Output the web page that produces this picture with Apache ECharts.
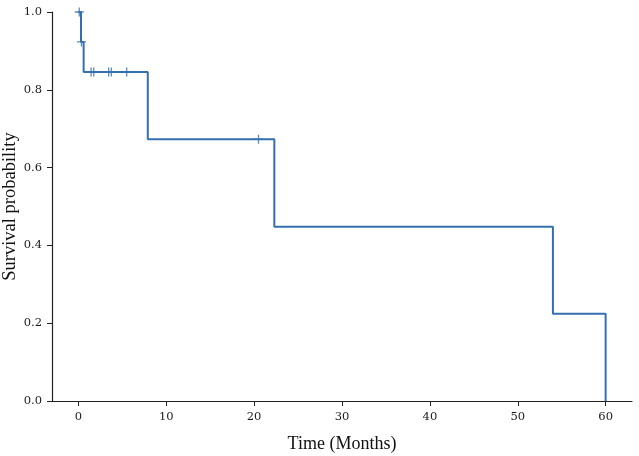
<!DOCTYPE html>
<html><head><meta charset="utf-8">
<script src="https://cdn.jsdelivr.net/npm/echarts@6/dist/echarts.min.js"></script>
<style>html,body{margin:0;padding:0;background:#fff}#c{width:639px;height:456px}</style>
</head><body><div id="c"></div>
<script>
var stepTimes = [0, 0.3, 0.6, 7.9, 22.3, 54.0, 60.0];
var stepSurv = [1.0, 0.923, 0.846, 0.673, 0.448, 0.224, 0.0];
var censorTimes = [0.1, 0.35, 1.45, 1.75, 3.45, 3.75, 5.5, 20.5];
var censorSurv = [1.0, 0.923, 0.846, 0.846, 0.846, 0.846, 0.846, 0.673];
var xTicks = [0, 10, 20, 30, 40, 50, 60];
var yTicks = [0, 0.2, 0.4, 0.6, 0.8, 1.0];

var color = '#3470ae';
var titleFont = 'Liberation Serif';
var tickFont = 'DejaVu Serif';
var chart = echarts.init(document.getElementById('c'));
chart.setOption({
  animation: false,
  grid: {left: 52, right: 7, top: 12, bottom: 55, outerBoundsMode: 'none', containLabel: false},
  xAxis: {
    type: 'value', min: -3, max: 63,
    name: 'Time (Months)', nameLocation: 'middle', nameGap: 34, nameMoveOverlap: false,
    nameTextStyle: {fontFamily: titleFont, fontSize: 18, color: '#111'},
    axisLine: {show: true, onZero: false, lineStyle: {color: '#222', width: 1.2}},
    axisTick: {show: true, length: 5, lineStyle: {color: '#222'}, customValues: xTicks},
    axisLabel: {fontFamily: tickFont, fontSize: 11.5, color: '#1a1a1a', margin: 10, customValues: xTicks},
    splitLine: {show: false}
  },
  yAxis: {
    type: 'value', min: 0, max: 1.0, interval: 0.2,
    name: 'Survival probability', nameLocation: 'middle', nameGap: 32, nameMoveOverlap: false,
    nameTextStyle: {fontFamily: titleFont, fontSize: 18.5, color: '#111'},
    axisLine: {show: true, onZero: false, lineStyle: {color: '#222', width: 1.2}},
    axisTick: {show: true, length: 5, lineStyle: {color: '#222'}, customValues: yTicks},
    axisLabel: {fontFamily: tickFont, fontSize: 11.5, color: '#1a1a1a', margin: 10, customValues: yTicks,
      formatter: function (v) { return Number(v).toFixed(1); }},
    splitLine: {show: false}
  },
  series: [
    {
      type: 'line', step: 'end', showSymbol: false, symbol: 'none',
      lineStyle: {color: color, width: 2},
      data: stepTimes.map(function (t, i) { return [t, stepSurv[i]]; })
    },
    {
      type: 'scatter', symbol: 'path://M5,0 L5,10 M0,5 L10,5', symbolSize: 9,
      itemStyle: {color: 'none', borderColor: color, borderWidth: 1.3},
      data: censorTimes.map(function (t, i) { return [t, censorSurv[i]]; })
    }
  ]
});
</script></body></html>
